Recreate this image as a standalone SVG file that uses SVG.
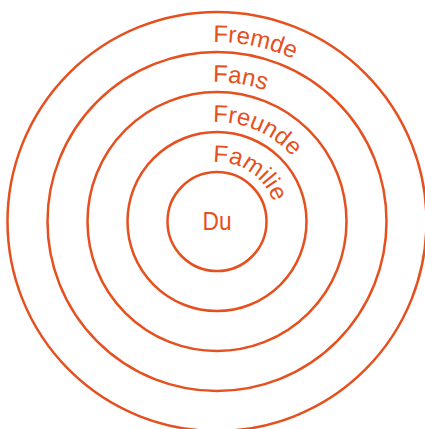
<svg xmlns="http://www.w3.org/2000/svg" width="425" height="429" viewBox="0 0 425 429">
<style>
.ring{fill:none;stroke:#E5501E;stroke-width:2.5}
.lbl{fill:#E5501E;font-family:"Liberation Sans",Arial,sans-serif;font-size:24px}
</style>
<defs>
<path id="p1" d="M157.5 221.5 A59.5 59.5 0 0 1 276.5 221.5"/>
<path id="p2" d="M117.5 221.5 A99.5 99.5 0 0 1 316.5 221.5"/>
<path id="p3" d="M77.5 221.5 A139.5 139.5 0 0 1 356.5 221.5"/>
<path id="p4" d="M37.5 221.5 A179.5 179.5 0 0 1 396.5 221.5"/>
</defs>
<rect width="425" height="429" fill="#fff"/>
<g id="fremde"><circle class="ring" cx="217" cy="221.5" r="209.5"/><text class="lbl"><textPath href="#p4" startOffset="278">Fremde</textPath></text></g>
<g id="fans"><circle class="ring" cx="217" cy="221.5" r="169.5"/><text class="lbl"><textPath href="#p3" startOffset="215">Fans</textPath></text></g>
<g id="freunde"><circle class="ring" cx="217" cy="221.5" r="129.5"/><text class="lbl"><textPath href="#p2" startOffset="152">Freunde</textPath></text></g>
<g id="familie"><circle class="ring" cx="217" cy="221.5" r="89.5"/><text class="lbl"><textPath href="#p1" startOffset="89.5">Familie</textPath></text></g>
<g id="du"><circle class="ring" cx="217" cy="221.5" r="49.5"/><text class="lbl" x="202.5" y="229.5" style="font-size:25px" textLength="29" lengthAdjust="spacingAndGlyphs">Du</text></g>
</svg>
